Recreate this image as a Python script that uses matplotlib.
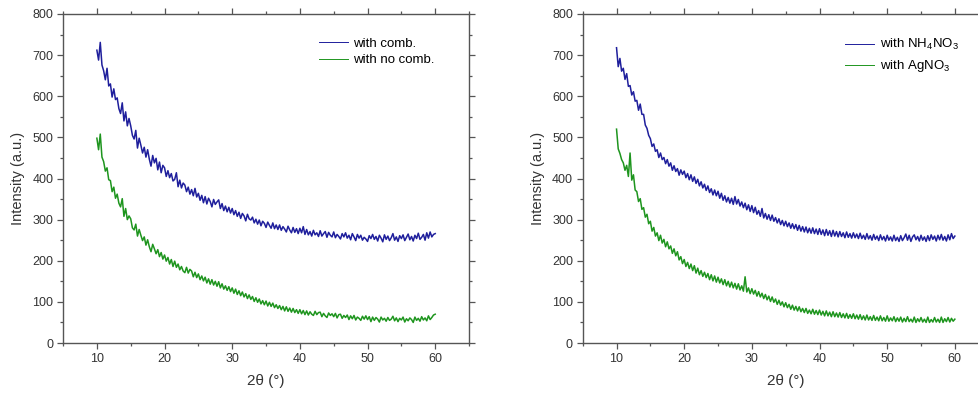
# -*- coding: utf-8 -*-

import numpy as np
import matplotlib
matplotlib.use('Agg')
import matplotlib.pyplot as plt
from matplotlib.ticker import MultipleLocator

plt.rcParams['font.family'] = ['Liberation Sans', 'DejaVu Sans']
plt.rcParams['mathtext.fontset'] = 'custom'
plt.rcParams['mathtext.rm'] = 'Liberation Sans'

# 2theta from 10 to 60 deg, step 0.25 (one row = 2 deg)
two_theta = np.linspace(10, 60, 201)

blue_left = [712, 688, 731, 676, 662, 640, 668, 625,
             630, 598, 618, 592, 596, 570, 558, 584,
             540, 562, 528, 546, 528, 505, 496, 517,
             474, 498, 481, 462, 476, 452, 470, 447,
             430, 456, 438, 449, 421, 440, 414, 432,
             426, 405, 419, 402, 412, 394, 398, 414,
             380, 396, 377, 389, 384, 368, 379, 362,
             373, 358, 376, 355, 364, 347, 359, 341,
             356, 338, 352, 344, 331, 349, 337, 343,
             348, 327, 339, 322, 333, 319, 330, 316,
             327, 312, 322, 308, 318, 303, 315, 309,
             297, 313, 302, 299, 306, 292, 301, 289,
             299, 285, 296, 291, 281, 294, 286, 279,
             292, 278, 287, 276, 287, 274, 283, 277,
             270, 284, 275, 268, 281, 269, 278, 266,
             279, 268, 283, 264, 276, 263, 271, 260,
             274, 263, 268, 259, 273, 260, 266, 271,
             257, 269, 262, 258, 270, 256, 264, 259,
             253, 266, 258, 268, 255, 262, 251, 266,
             258, 249, 264, 255, 262, 250, 257, 253,
             247, 261, 254, 264, 252, 259, 248, 262,
             255, 246, 263, 252, 260, 249, 256, 266,
             250, 258, 247, 261, 254, 263, 249, 257,
             265, 251, 259, 248, 262, 254, 267, 252,
             257, 264, 250, 268, 255, 270, 258, 264,
             266]

green_left = [498, 470, 508, 452, 441, 418, 426, 397,
              395, 368, 379, 352, 362, 340, 331, 351,
              308, 327, 300, 309, 302, 280, 275, 289,
              260, 276, 262, 249, 258, 238, 251, 234,
              222, 240, 229, 217, 227, 210, 220, 204,
              214, 199, 208, 192, 203, 186, 199, 184,
              192, 178, 186, 175, 171, 184, 170, 179,
              175, 161, 172, 159, 168, 154, 163, 151,
              160, 146, 156, 143, 154, 141, 150, 138,
              149, 134, 144, 131, 139, 128, 137, 125,
              134, 121, 131, 118, 127, 115, 124, 112,
              120, 108, 117, 106, 113, 101, 110, 99,
              107, 95, 103, 93, 102, 90, 99, 89,
              97, 86, 93, 84, 91, 81, 89, 78,
              88, 77, 85, 75, 84, 74, 81, 72,
              81, 71, 79, 69, 78, 68, 76, 70,
              67, 77, 69, 74, 75, 64, 72, 66,
              62, 73, 67, 71, 64, 72, 61, 69,
              70, 60, 67, 62, 68, 57, 66, 59,
              67, 56, 63, 60, 55, 65, 58, 66,
              57, 64, 52, 63, 55, 62, 58, 51,
              63, 56, 60, 53, 62, 55, 58, 65,
              54, 61, 52, 60, 56, 63, 51, 59,
              54, 61, 57, 50, 63, 55, 60, 53,
              64, 56, 61, 54, 66, 57, 62, 68,
              70]

blue_right = [718, 672, 692, 661, 668, 641, 655, 624,
              626, 603, 611, 588, 590, 566, 581, 556,
              556, 530, 522, 505, 497, 478, 484, 466,
              470, 451, 462, 446, 451, 436, 446, 430,
              438, 420, 431, 417, 424, 408, 421, 410,
              418, 402, 412, 397, 409, 393, 404, 388,
              398, 382, 392, 377, 386, 371, 382, 366,
              375, 360, 372, 358, 369, 352, 364, 347,
              358, 343, 354, 340, 352, 337, 356, 338,
              349, 333, 343, 329, 340, 324, 336, 320,
              334, 317, 330, 313, 322, 308, 327, 304,
              315, 301, 312, 298, 311, 296, 305, 292,
              302, 288, 298, 285, 296, 283, 292, 279,
              290, 278, 288, 274, 286, 272, 283, 270,
              282, 268, 279, 267, 280, 266, 277, 264,
              278, 264, 275, 261, 276, 262, 273, 259,
              274, 260, 271, 258, 271, 259, 268, 256,
              270, 257, 266, 255, 268, 256, 265, 254,
              267, 254, 262, 252, 266, 253, 261, 250,
              264, 252, 260, 249, 263, 251, 259, 248,
              262, 250, 258, 248, 262, 249, 257, 247,
              261, 249, 256, 265, 250, 262, 247, 258,
              263, 251, 259, 248, 262, 250, 258, 247,
              261, 249, 263, 252, 260, 248, 262, 251,
              264, 250, 259, 248, 263, 251, 266, 254,
              260]

green_right = [520, 472, 461, 446, 438, 420, 432, 405,
               462, 396, 409, 372, 368, 344, 351, 325,
               329, 306, 313, 290, 296, 272, 281, 260,
               268, 249, 262, 243, 252, 234, 246, 229,
               236, 218, 229, 212, 222, 202, 210, 193,
               203, 186, 196, 181, 192, 176, 188, 170,
               182, 166, 176, 162, 172, 159, 169, 154,
               166, 151, 163, 148, 160, 146, 156, 142,
               154, 139, 150, 136, 148, 134, 145, 131,
               144, 129, 139, 126, 161, 124, 134, 120,
               132, 119, 128, 114, 125, 112, 121, 108,
               118, 105, 114, 101, 112, 99, 107, 94,
               104, 92, 100, 88, 98, 86, 94, 82,
               92, 80, 89, 78, 88, 76, 84, 74,
               84, 72, 80, 71, 82, 70, 79, 69,
               80, 68, 77, 66, 78, 66, 75, 64,
               76, 64, 73, 63, 74, 62, 71, 61,
               72, 60, 69, 60, 71, 59, 68, 58,
               69, 57, 66, 56, 68, 56, 64, 55,
               67, 55, 63, 54, 66, 54, 62, 53,
               66, 53, 61, 54, 64, 52, 61, 53,
               63, 51, 60, 52, 64, 52, 58, 51,
               63, 50, 59, 52, 62, 51, 58, 50,
               63, 50, 57, 51, 62, 51, 58, 50,
               63, 50, 59, 52, 62, 51, 60, 53,
               58]

labels_left = ['with comb.', 'with no comb.']
labels_right = [r'with NH$_\mathregular{4}$NO$_\mathregular{3}$',
                r'with AgNO$_\mathregular{3}$']

BLUE = '#1f1f9c'
GREEN = '#1e951e'
SPINE = '#555555'
TEXT = '#333333'


def style_axes(ax):
    """Origin-like frame and ticks"""
    ax.set_xlim(5, 65)
    ax.set_ylim(0, 800)
    ax.xaxis.set_major_locator(MultipleLocator(10))
    ax.xaxis.set_minor_locator(MultipleLocator(5))
    ax.yaxis.set_major_locator(MultipleLocator(100))
    ax.yaxis.set_minor_locator(MultipleLocator(50))
    for s in ax.spines.values():
        s.set_color(SPINE)
        s.set_linewidth(1.0)
    ax.tick_params(which='both', direction='out', color=SPINE, width=0.9,
                   labelsize=9, labelcolor=TEXT, pad=3)
    ax.tick_params(which='major', length=4)
    ax.tick_params(which='minor', length=2.5)
    # mirrored ticks on top / right, no labels
    ax.tick_params(which='both', top=True, right=True, labeltop=False, labelright=False)
    ax.set_xlabel(u'2\u03b8 (\u00b0)', fontsize=11, color=TEXT, labelpad=7)
    ax.set_ylabel('Intensity (a.u.)', fontsize=10.5, color=TEXT, labelpad=5)


fig = plt.figure(figsize=(9.79, 4.0), dpi=100)

ax1 = fig.add_axes([0.0644, 0.1425, 0.4147, 0.8225])
ax1.plot(two_theta, blue_left, color=BLUE, lw=1.1, label=labels_left[0])
ax1.plot(two_theta, green_left, color=GREEN, lw=1.1, label=labels_left[1])
style_axes(ax1)
ax1.legend(loc='upper right', bbox_to_anchor=(0.945, 0.965), frameon=False,
           fontsize=9.5, handlelength=2.2, handletextpad=0.4, labelspacing=0.35)
for h in ax1.get_legend().get_lines():
    h.set_linewidth(0.7)

ax2 = fig.add_axes([0.5952, 0.1425, 0.4147, 0.8225])
ax2.plot(two_theta, blue_right, color=BLUE, lw=1.1, label=labels_right[0])
ax2.plot(two_theta, green_right, color=GREEN, lw=1.1, label=labels_right[1])
style_axes(ax2)
ax2.legend(loc='upper right', bbox_to_anchor=(0.955, 0.965), frameon=False,
           fontsize=9.5, handlelength=2.2, handletextpad=0.4, labelspacing=0.45)
for h in ax2.get_legend().get_lines():
    h.set_linewidth(0.7)

plt.savefig('out.png', dpi=100)
plt.close()
